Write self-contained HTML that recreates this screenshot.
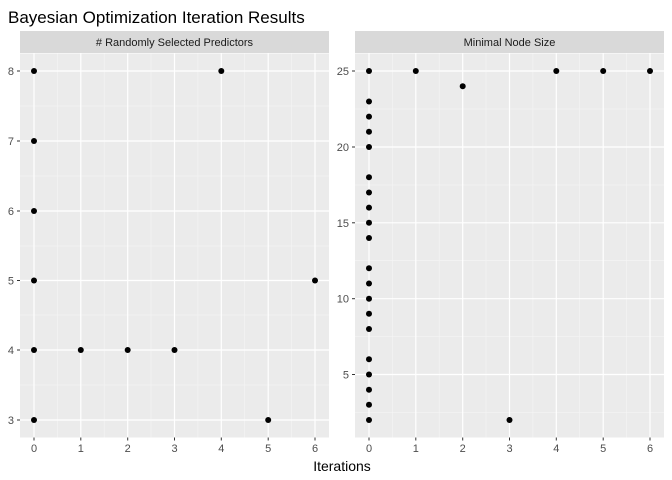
<!DOCTYPE html>
<html><head><style>body{margin:0;background:#fff}svg{display:block}text{font-family:"Liberation Sans",sans-serif}</style></head><body>
<svg width="672" height="480" xmlns="http://www.w3.org/2000/svg">
<rect width="672" height="480" fill="#fff"/>
<text x="8" y="23" font-size="17" fill="#000">Bayesian Optimization Iteration Results</text>
<g id="p1">
<rect x="20" y="31" width="309" height="22" fill="#d9d9d9"/>
<text x="174.5" y="46" font-size="11" fill="#1a1a1a" text-anchor="middle"># Randomly Selected Predictors</text>
<rect x="20" y="53.5" width="309" height="384" fill="#ebebeb"/>
<g stroke="#f5f5f5" stroke-width="0.6">
<line x1="20" x2="329" y1="106" y2="106"/><line x1="20" x2="329" y1="176" y2="176"/><line x1="20" x2="329" y1="246" y2="246"/><line x1="20" x2="329" y1="315" y2="315"/><line x1="20" x2="329" y1="385" y2="385"/>
<line y1="53.5" y2="437.5" x1="57.4" x2="57.4"/><line y1="53.5" y2="437.5" x1="104.2" x2="104.2"/><line y1="53.5" y2="437.5" x1="151" x2="151"/><line y1="53.5" y2="437.5" x1="197.9" x2="197.9"/><line y1="53.5" y2="437.5" x1="244.7" x2="244.7"/><line y1="53.5" y2="437.5" x1="291.6" x2="291.6"/>
</g>
<g stroke="#fff" stroke-width="1.2">
<line x1="20" x2="329" y1="71" y2="71"/><line x1="20" x2="329" y1="141" y2="141"/><line x1="20" x2="329" y1="211" y2="211"/><line x1="20" x2="329" y1="280.5" y2="280.5"/><line x1="20" x2="329" y1="350" y2="350"/><line x1="20" x2="329" y1="420" y2="420"/>
<line y1="53.5" y2="437.5" x1="34" x2="34"/><line y1="53.5" y2="437.5" x1="80.8" x2="80.8"/><line y1="53.5" y2="437.5" x1="127.7" x2="127.7"/><line y1="53.5" y2="437.5" x1="174.5" x2="174.5"/><line y1="53.5" y2="437.5" x1="221.3" x2="221.3"/><line y1="53.5" y2="437.5" x1="268.2" x2="268.2"/><line y1="53.5" y2="437.5" x1="315" x2="315"/>
</g>
<g stroke="#333" stroke-width="1">
<line x1="17" x2="20" y1="71" y2="71"/><line x1="17" x2="20" y1="141" y2="141"/><line x1="17" x2="20" y1="211" y2="211"/><line x1="17" x2="20" y1="280.5" y2="280.5"/><line x1="17" x2="20" y1="350" y2="350"/><line x1="17" x2="20" y1="420" y2="420"/>
<line y1="437.5" y2="440.5" x1="34" x2="34"/><line y1="437.5" y2="440.5" x1="80.8" x2="80.8"/><line y1="437.5" y2="440.5" x1="127.7" x2="127.7"/><line y1="437.5" y2="440.5" x1="174.5" x2="174.5"/><line y1="437.5" y2="440.5" x1="221.3" x2="221.3"/><line y1="437.5" y2="440.5" x1="268.2" x2="268.2"/><line y1="437.5" y2="440.5" x1="315" x2="315"/>
</g>
<g font-size="11" fill="#4d4d4d" text-anchor="end">
<text x="14" y="75">8</text><text x="14" y="145">7</text><text x="14" y="215">6</text><text x="14" y="284.5">5</text><text x="14" y="354">4</text><text x="14" y="424">3</text>
</g>
<g font-size="11" fill="#4d4d4d" text-anchor="middle">
<text x="34" y="452">0</text><text x="80.8" y="452">1</text><text x="127.7" y="452">2</text><text x="174.5" y="452">3</text><text x="221.3" y="452">4</text><text x="268.2" y="452">5</text><text x="315" y="452">6</text>
</g>
<g fill="#000">
<circle cx="34" cy="71" r="3"/><circle cx="34" cy="141" r="3"/><circle cx="34" cy="211" r="3"/><circle cx="34" cy="280.5" r="3"/><circle cx="34" cy="350" r="3"/><circle cx="34" cy="420" r="3"/>
<circle cx="80.8" cy="350" r="3"/><circle cx="127.7" cy="350" r="3"/><circle cx="174.5" cy="350" r="3"/><circle cx="221.3" cy="71" r="3"/><circle cx="268.2" cy="420" r="3"/><circle cx="315" cy="280.5" r="3"/>
</g>
</g>
<g id="p2">
<rect x="355" y="31" width="309" height="22" fill="#d9d9d9"/>
<text x="509.5" y="46" font-size="11" fill="#1a1a1a" text-anchor="middle">Minimal Node Size</text>
<rect x="355" y="53.5" width="309" height="384" fill="#ebebeb"/>
<g stroke="#f5f5f5" stroke-width="0.6">
<line x1="355" x2="664" y1="412.4" y2="412.4"/><line x1="355" x2="664" y1="336.6" y2="336.6"/><line x1="355" x2="664" y1="260.7" y2="260.7"/><line x1="355" x2="664" y1="184.9" y2="184.9"/><line x1="355" x2="664" y1="109" y2="109"/>
<line y1="53.5" y2="437.5" x1="392.4" x2="392.4"/><line y1="53.5" y2="437.5" x1="439.2" x2="439.2"/><line y1="53.5" y2="437.5" x1="486" x2="486"/><line y1="53.5" y2="437.5" x1="532.9" x2="532.9"/><line y1="53.5" y2="437.5" x1="579.7" x2="579.7"/><line y1="53.5" y2="437.5" x1="626.6" x2="626.6"/>
</g>
<g stroke="#fff" stroke-width="1.2">
<line x1="355" x2="664" y1="374.5" y2="374.5"/><line x1="355" x2="664" y1="298.7" y2="298.7"/><line x1="355" x2="664" y1="222.8" y2="222.8"/><line x1="355" x2="664" y1="147" y2="147"/><line x1="355" x2="664" y1="71" y2="71"/>
<line y1="53.5" y2="437.5" x1="369" x2="369"/><line y1="53.5" y2="437.5" x1="415.8" x2="415.8"/><line y1="53.5" y2="437.5" x1="462.7" x2="462.7"/><line y1="53.5" y2="437.5" x1="509.5" x2="509.5"/><line y1="53.5" y2="437.5" x1="556.3" x2="556.3"/><line y1="53.5" y2="437.5" x1="603.2" x2="603.2"/><line y1="53.5" y2="437.5" x1="650" x2="650"/>
</g>
<g stroke="#333" stroke-width="1">
<line x1="352" x2="355" y1="374.5" y2="374.5"/><line x1="352" x2="355" y1="298.7" y2="298.7"/><line x1="352" x2="355" y1="222.8" y2="222.8"/><line x1="352" x2="355" y1="147" y2="147"/><line x1="352" x2="355" y1="71" y2="71"/>
<line y1="437.5" y2="440.5" x1="369" x2="369"/><line y1="437.5" y2="440.5" x1="415.8" x2="415.8"/><line y1="437.5" y2="440.5" x1="462.7" x2="462.7"/><line y1="437.5" y2="440.5" x1="509.5" x2="509.5"/><line y1="437.5" y2="440.5" x1="556.3" x2="556.3"/><line y1="437.5" y2="440.5" x1="603.2" x2="603.2"/><line y1="437.5" y2="440.5" x1="650" x2="650"/>
</g>
<g font-size="11" fill="#4d4d4d" text-anchor="end">
<text x="349" y="378.5">5</text><text x="349" y="302.7">10</text><text x="349" y="226.8">15</text><text x="349" y="151">20</text><text x="349" y="75">25</text>
</g>
<g font-size="11" fill="#4d4d4d" text-anchor="middle">
<text x="369" y="452">0</text><text x="415.8" y="452">1</text><text x="462.7" y="452">2</text><text x="509.5" y="452">3</text><text x="556.3" y="452">4</text><text x="603.2" y="452">5</text><text x="650" y="452">6</text>
</g>
<g fill="#000">
<circle cx="369" cy="420" r="3"/><circle cx="369" cy="404.8" r="3"/><circle cx="369" cy="389.7" r="3"/><circle cx="369" cy="374.5" r="3"/><circle cx="369" cy="359.3" r="3"/><circle cx="369" cy="329" r="3"/><circle cx="369" cy="313.8" r="3"/><circle cx="369" cy="298.7" r="3"/><circle cx="369" cy="283.5" r="3"/><circle cx="369" cy="268.3" r="3"/><circle cx="369" cy="238" r="3"/><circle cx="369" cy="222.8" r="3"/><circle cx="369" cy="207.6" r="3"/><circle cx="369" cy="192.5" r="3"/><circle cx="369" cy="177.3" r="3"/><circle cx="369" cy="147" r="3"/><circle cx="369" cy="131.8" r="3"/><circle cx="369" cy="116.6" r="3"/><circle cx="369" cy="101.5" r="3"/><circle cx="369" cy="71" r="3"/>
<circle cx="415.8" cy="71" r="3"/><circle cx="462.7" cy="86.2" r="3"/><circle cx="509.5" cy="420" r="3"/><circle cx="556.3" cy="71" r="3"/><circle cx="603.2" cy="71" r="3"/><circle cx="650" cy="71" r="3"/>
</g>
</g>
<text x="342" y="471" font-size="14" fill="#000" text-anchor="middle">Iterations</text>
</svg>
</body></html>
